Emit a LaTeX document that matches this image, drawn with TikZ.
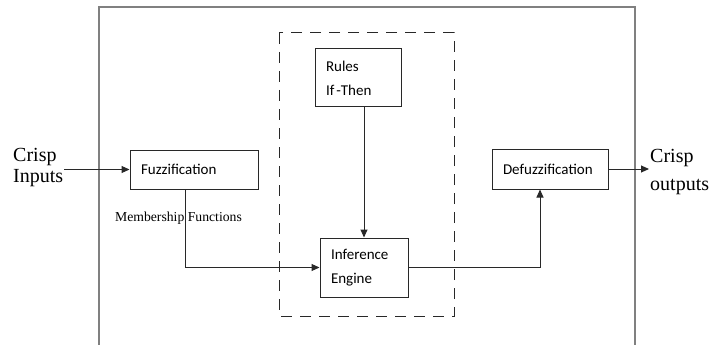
\documentclass[tikz,border=0pt]{standalone}
\usepackage{fontspec}
\setmainfont{Liberation Serif}
\newfontfamily\boxfont{Carlito}
\usetikzlibrary{positioning,arrows.meta,calc}
\definecolor{fzFrame}{RGB}{128,128,128}
\definecolor{fzLine}{RGB}{40,40,40}
\tikzset{
    block/.style={draw=fzLine, line width=1pt, font=\boxfont\fontsize{15}{24}\selectfont,
                  align=left, inner xsep=11pt, inner ysep=0pt},
    crisp/.style={font=\fontsize{20}{21}\selectfont, align=left, inner sep=1pt},
    stage/.style={draw=fzLine, line width=1pt, dash pattern=on 11pt off 8pt},
    flow/.style={-{Triangle[length=8pt,width=7pt]}, line width=1pt, draw=fzLine}
}

\begin{document}
\begin{tikzpicture}[x=1pt, y=-1pt]
  \useasboundingbox (0,0) rectangle (710,345);
  % outer frame, open at the bottom
  \draw[fzFrame, line width=1.5pt] (99,345) -- (99,7) -- (635,7) -- (635,345);
  % inference stage
  \draw[stage] (279,33) rectangle (454,316);

  % blocks
  \node[block, text width=106pt, minimum height=39pt] (fuzz) at (194,169.5) {Fuzzification};
  \node[block, text width=64pt, minimum height=58pt] (rules) at (358,78) {Rules\\If\kern2pt-Then};
  \node[block, text width=66pt, minimum height=59pt] (infer) at (364,267.5) {Inference\\Engine};
  \node[block, text width=94pt, minimum height=40pt] (defuzz) at (550,169) {Defuzzification};

  % inputs and outputs
  \node[crisp, anchor=west] (cin) at (12,168) {Crisp\\Inputs};
  \node[crisp, font=\fontsize{20}{28}\selectfont, anchor=west] (cout) at (649,172.4) {Crisp\\outputs};
  \node[font=\fontsize{13.7}{16}\selectfont] (mf) at (178.5,218) {Membership Functions};

  % connectors
  \draw[flow] (fuzz.west -| cin.east) -- (fuzz.west);
  \draw[flow] ($(fuzz.south)+(-9,0)$) |- (infer.west);
  \draw[flow] (infer.north |- rules.south) -- (infer.north);
  \draw[flow] (infer.east) -| ($(defuzz.south)+(-10,0)$);
  \draw[flow] (defuzz.east) -- (defuzz.east -| cout.west);
\end{tikzpicture}
\end{document}
